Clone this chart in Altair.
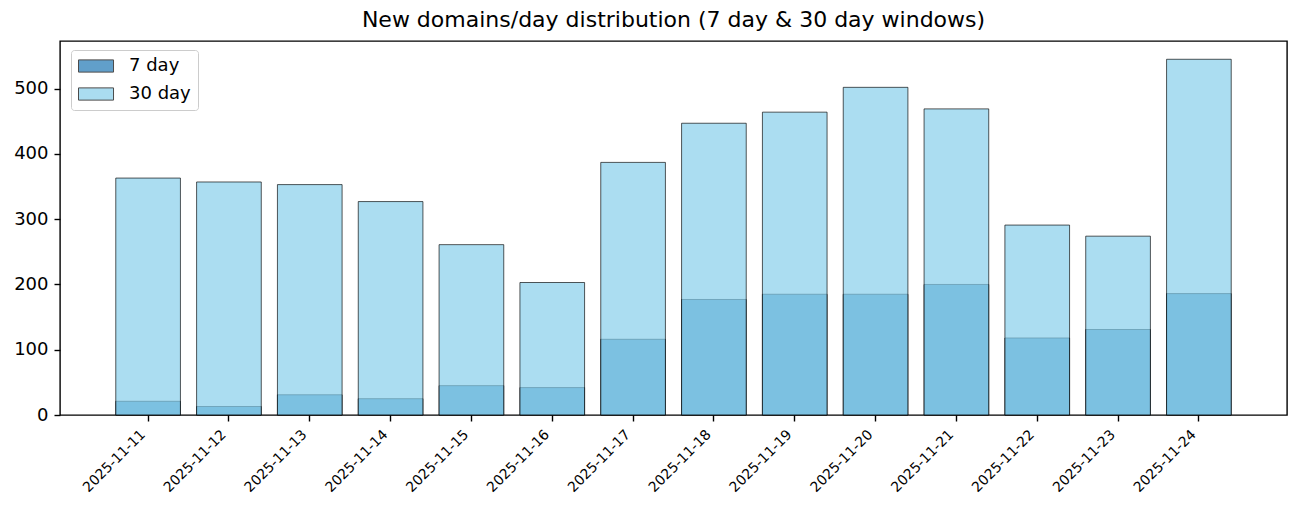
import altair as alt
import pandas as pd

dates = ["2025-11-11", "2025-11-12", "2025-11-13", "2025-11-14", "2025-11-15",
         "2025-11-16", "2025-11-17", "2025-11-18", "2025-11-19", "2025-11-20",
         "2025-11-21", "2025-11-22", "2025-11-23", "2025-11-24"]
seven_day = [21, 13, 31, 25, 45, 42, 116, 177, 185, 185, 200, 118, 131, 186]
thirty_day = [363, 357, 353, 327, 261, 203, 387, 447, 464, 502, 469, 291, 274, 545]
series_names = ["7 day", "30 day"]
series_colors = ["#1f77b4", "#87ceeb"]
y_ticks = [0, 100, 200, 300, 400, 500]

rows = []
for d, v in zip(dates, seven_day):
    rows.append({"date": d, "series": "7 day", "count": v})
for d, v in zip(dates, thirty_day):
    rows.append({"date": d, "series": "30 day", "count": v})
df = pd.DataFrame(rows)

color_enc = alt.Color(
    "series:N",
    sort=series_names,
    scale=alt.Scale(domain=series_names, range=series_colors),
    legend=alt.Legend(
        title=None,
        orient="none",
        legendX=11,
        legendY=9,
        padding=7,
        fillColor="rgba(255,255,255,0.8)",
        strokeColor="#cccccc",
        cornerRadius=3,
        symbolType="M-1,-0.72H3.12V0.72H-1Z",
        symbolSize=289,
        symbolStrokeColor="black",
        symbolStrokeWidth=1,
        symbolOpacity=0.7,
        labelFontSize=18,
        labelColor="black",
        labelOffset=33,
        rowPadding=10,
    ),
)

x_enc = alt.X(
    "date:N",
    sort=dates,
    title=None,
    scale=alt.Scale(paddingInner=0.2, paddingOuter=0.69),
    axis=alt.Axis(
        labelAngle=-45,
        labelAlign="right",
        labelBaseline="bottom",
        labelFontSize=14,
        labelPadding=16,
        labelColor="black",
        tickSize=6,
        tickWidth=1.4,
        tickColor="black",
        domain=False,
        grid=False,
    ),
)
y_enc = alt.Y(
    "count:Q",
    title=None,
    scale=alt.Scale(domain=[0, 573], nice=False, zero=True),
    axis=alt.Axis(
        values=y_ticks,
        grid=False,
        domain=False,
        labelFontSize=18,
        labelColor="black",
        labelPadding=6,
        tickSize=6,
        tickWidth=1.4,
        tickColor="black",
    ),
)

base = alt.Chart(df)
bar_style = dict(fillOpacity=0.7, stroke="black", strokeOpacity=0.65, strokeWidth=1)
bars7 = base.transform_filter(alt.datum.series == "7 day").mark_bar(**bar_style).encode(
    x=x_enc, y=y_enc, color=color_enc
)
bars30 = base.transform_filter(alt.datum.series == "30 day").mark_bar(**bar_style).encode(
    x=x_enc, y=y_enc, color=color_enc
)

chart = (
    alt.layer(bars7, bars30)
    .properties(
        width=1227,
        height=374,
        title=alt.TitleParams(
            "New domains/day distribution (7 day & 30 day windows)",
            fontSize=22,
            fontWeight="normal",
            color="black",
            anchor="middle",
            offset=9,
        ),
        autosize=alt.AutoSizeParams(type="none"),
        padding={"left": 52, "top": 33, "right": 10, "bottom": 90},
    )
    .configure(font="DejaVu Sans")
    .configure_view(stroke="black", strokeWidth=1.4)
)

chart.save("out.html", embed_options={"renderer": "svg", "actions": False})
